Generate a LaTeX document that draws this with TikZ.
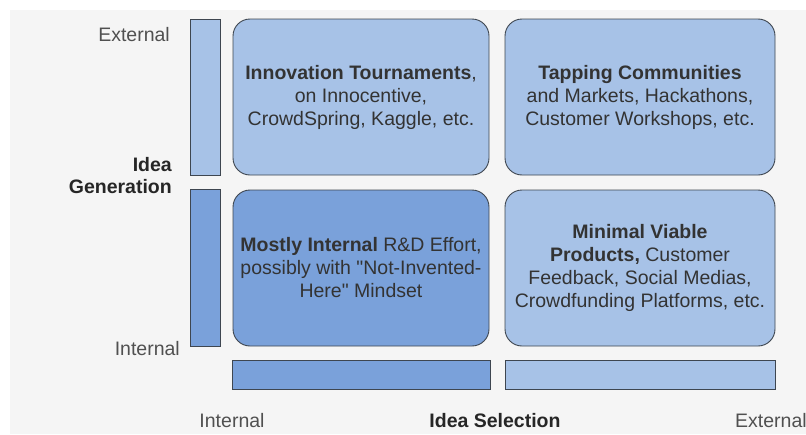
\documentclass[tikz,border=0pt]{standalone}
\usepackage{fontspec}
\setmainfont{Liberation Sans}[Ligatures=TeXOff]
\usetikzlibrary{positioning}

\definecolor{lightq}{HTML}{A7C2E7}
\definecolor{darkq}{HTML}{7AA1DA}
\definecolor{edge}{HTML}{3E4650}
\definecolor{canvas}{HTML}{F5F5F5}
\definecolor{axis}{HTML}{505050}

\begin{document}
\begin{tikzpicture}[
  x=1pt, y=-1pt,
  font=\fontsize{19.5}{23}\selectfont,
  quad/.style={rectangle, draw=edge, line width=0.9pt, rounded corners=17pt,
               minimum height=156pt, align=center, inner sep=0pt,
               outer sep=0pt, text=black!80},
  bar/.style={rectangle, draw=edge, line width=0.9pt, inner sep=0pt,
              outer sep=0pt},
  axislabel/.style={text=axis, inner sep=0pt},
  axistitle/.style={font=\fontsize{19.5}{22}\selectfont\bfseries,
                    text=black!85, inner sep=0pt, align=right}
]
  \useasboundingbox (0,0) rectangle (806,434);
  \fill[canvas] (10,10) rectangle (806,434);

  % the four quadrants
  \node[quad, fill=lightq, minimum width=256pt] (tourn) at (361,97)
    {\textbf{Innovation Tournaments},\\ on Innocentive,\\ CrowdSpring, Kaggle, etc.};
  \node[quad, fill=lightq, minimum width=270pt, right=16pt of tourn] (tapping)
    {\textbf{Tapping Communities}\\ and Markets, Hackathons,\\ Customer Workshops, etc.};
  \node[quad, fill=darkq, minimum width=256pt, below=15pt of tourn] (inhouse)
    {\textbf{Mostly Internal} R\&D Effort,\\ possibly with "Not-Invented-\\ Here" Mindset};
  \node[quad, fill=lightq, minimum width=270pt, below=15pt of tapping] (mvp)
    {\textbf{Minimal Viable}\\ \textbf{Products,} Customer\\ Feedback, Social Medias,\\ Crowdfunding Platforms, etc.};

  % axis bars
  \node[bar, fill=lightq, minimum width=30pt, minimum height=156pt, left=13pt of tourn] (genbarext) {};
  \node[bar, fill=darkq, minimum width=30pt, minimum height=157pt, left=13pt of inhouse] (genbarint) {};
  \node[bar, fill=darkq, minimum width=258pt, minimum height=29pt, below=14pt of inhouse] (selbarint) {};
  \node[bar, fill=lightq, minimum width=270pt, minimum height=29pt, below=14pt of mvp] (selbarext) {};

  % axis labels
  \node[axislabel, anchor=base east] (genext) at (170,41) {External};
  \node[axistitle, anchor=east] (gen) at (172,176) {Idea\\Generation};
  \node[axislabel, anchor=base east] (genint) at (180,355) {Internal};
  \node[axislabel, anchor=base] (selint) at (232,427) {Internal};
  \node[axistitle, anchor=base] (sel) at (495,427) {Idea Selection};
  \node[axislabel, anchor=base west] (selext) at (735,427) {External};
\end{tikzpicture}
\end{document}
